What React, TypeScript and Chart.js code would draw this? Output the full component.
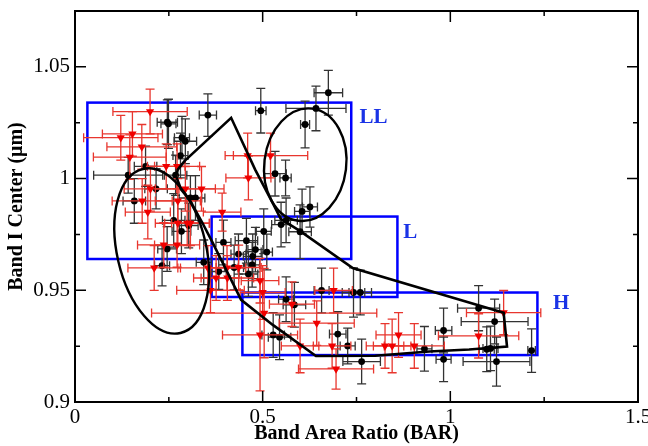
import React, { useEffect, useRef } from 'react';
import { Chart, registerables } from 'chart.js';

Chart.register(...registerables);

// ---- data: black circles ----
const blackX = [0.675, 0.642, 0.613, 0.495, 0.354, 0.246, 0.249, 0.285, 0.294, 0.281, 0.1417, 0.188, 0.268, 0.216, 0.158, 0.3075, 0.321, 0.263, 0.2836, 0.303, 0.2455, 0.232, 0.343, 0.383, 0.533, 0.561, 0.626, 0.605, 0.5624, 0.549, 0.5997, 0.5029, 0.3955, 0.4567, 0.4355, 0.4807, 0.4735, 0.511, 0.424, 0.472, 0.462, 0.657, 0.742, 0.760, 0.5624, 0.5846, 0.528, 0.545, 0.700, 0.7637, 0.931, 0.982, 0.982, 1.0753, 1.118, 1.097, 1.107, 1.2165, 1.123, 0.7265];
const blackY = [1.0384, 1.0314, 1.0242, 1.0304, 1.0284, 1.0252, 1.0245, 1.0183, 1.0167, 1.0103, 1.0015, 1.0055, 1.0015, 0.9954, 0.990, 0.9913, 0.9913, 0.9813, 0.9764, 0.979, 0.9685, 0.961, 0.9625, 0.9584, 1.0022, 1.0003, 0.9873, 0.9853, 0.9813, 0.9794, 0.9762, 0.9764, 0.9714, 0.9722, 0.9662, 0.9682, 0.9652, 0.9671, 0.9602, 0.9614, 0.9573, 0.9499, 0.949, 0.949, 0.946, 0.9435, 0.930, 0.929, 0.9304, 0.9181, 0.9238, 0.932, 0.9191, 0.942, 0.936, 0.9236, 0.924, 0.923, 0.9181, 0.9251];
const blackXErr = [0.038, 0.08, 0.012, 0.014, 0.023, 0.027, 0.02, 0.02, 0.03, 0.02, 0.092, 0.03, 0.03, 0.03, 0.03, 0.03, 0.025, 0.03, 0.025, 0.025, 0.025, 0.02, 0.02, 0.02, 0.03, 0.015, 0.02, 0.02, 0.03, 0.025, 0.03, 0.02, 0.02, 0.03, 0.02, 0.02, 0.025, 0.015, 0.025, 0.02, 0.025, 0.02, 0.03, 0.03, 0.02, 0.03, 0.03, 0.03, 0.022, 0.05, 0.02, 0.022, 0.02, 0.056, 0.089, 0.02, 0.02, 0.01, 0.089, 0.02];
const blackYErr = [0.010, 0.010, 0.0105, 0.010, 0.0095, 0.010, 0.011, 0.0095, 0.010, 0.010, 0.008, 0.009, 0.009, 0.009, 0.010, 0.010, 0.010, 0.012, 0.010, 0.010, 0.010, 0.009, 0.010, 0.008, 0.010, 0.008, 0.009, 0.010, 0.010, 0.010, 0.012, 0.010, 0.010, 0.010, 0.009, 0.010, 0.010, 0.008, 0.010, 0.010, 0.010, 0.010, 0.011, 0.010, 0.010, 0.010, 0.010, 0.010, 0.010, 0.010, 0.010, 0.010, 0.010, 0.0101, 0.010, 0.010, 0.010, 0.0097, 0.011, 0.008];

// ---- data: red triangles ----
const redX = [0.200, 0.122, 0.153, 0.178, 0.146, 0.243, 0.272, 0.460, 0.521, 0.462, 0.201, 0.294, 0.337, 0.179, 0.274, 0.194, 0.392, 0.274, 0.299, 0.3075, 0.2366, 0.272, 0.211, 0.354, 0.376, 0.406, 0.436, 0.405, 0.493, 0.361, 0.500, 0.689, 0.578, 0.504, 0.644, 0.493, 0.5997, 0.685, 0.826, 0.845, 0.862, 0.904, 0.6955, 1.142, 1.0753];
const redY = [1.030, 1.0183, 1.020, 1.0142, 1.0096, 1.0055, 1.0055, 1.0103, 1.0103, 1.0003, 0.9954, 0.9954, 0.9954, 0.990, 0.990, 0.985, 0.985, 0.980, 0.980, 0.980, 0.9703, 0.9703, 0.960, 0.960, 0.9555, 0.9555, 0.9602, 0.960, 0.9543, 0.950, 0.949, 0.9499, 0.9438, 0.9398, 0.9353, 0.930, 0.9251, 0.9251, 0.9251, 0.9251, 0.930, 0.9251, 0.9148, 0.940, 0.9296];
const redXErr = [0.099, 0.099, 0.08, 0.093, 0.097, 0.05, 0.06, 0.06, 0.099, 0.06, 0.07, 0.08, 0.06, 0.08, 0.06, 0.06, 0.05, 0.06, 0.06, 0.05, 0.07, 0.06, 0.07, 0.08, 0.06, 0.07, 0.06, 0.05, 0.05, 0.09, 0.06, 0.05, 0.06, 0.3, 0.1, 0.1, 0.05, 0.05, 0.05, 0.05, 0.06, 0.08, 0.1, 0.099, 0.107];
const redYErr = [0.010, 0.010, 0.010, 0.010, 0.010, 0.010, 0.010, 0.010, 0.010, 0.0098, 0.010, 0.010, 0.010, 0.010, 0.010, 0.012, 0.0085, 0.010, 0.010, 0.010, 0.010, 0.010, 0.010, 0.010, 0.010, 0.010, 0.010, 0.010, 0.010, 0.010, 0.012, 0.010, 0.010, 0.020, 0.010, 0.025, 0.012, 0.010, 0.010, 0.012, 0.010, 0.010, 0.009, 0.0099, 0.0099];

// ---- polygon outline ----
const polyX = [0.2695, 0.2738, 0.2916, 0.416, 0.48, 0.53, 0.548, 0.60, 0.74, 1.142, 1.151, 1.05, 0.944, 0.80, 0.642, 0.527, 0.4426, 0.4115, 0.3936, 0.367, 0.340, 0.305, 0.2828, 0.2695];
const polyY = [1.001, 1.004, 1.0078, 1.0272, 1.004, 0.988, 0.982, 0.9765, 0.960, 0.940, 0.9248, 0.9235, 0.9226, 0.9207, 0.9206, 0.9345, 0.9457, 0.9562, 0.9622, 0.9712, 0.980, 0.9906, 0.9951, 1.001];

// ---- boxes ----
const boxNames = ['LL', 'L', 'H'];
const boxXMin = [0.033, 0.364, 0.446];
const boxXMax = [0.736, 0.859, 1.232];
const boxYMin = [0.964, 0.947, 0.921];
const boxYMax = [1.034, 0.983, 0.949];
const boxLabelX = [0.795, 0.893, 1.295];
const boxLabelY = [1.0272, 0.976, 0.944];

// ---- ellipses: major-axis endpoints + minor/major ratio ----
const ellX1 = [0.181, 0.5952];
const ellY1 = [1.0043, 0.9811];
const ellX2 = [0.281, 0.6318];
const ellY2 = [0.9309, 1.0313];
const ellRatio = [0.53, 0.725];

// ---- ticks ----
const xMajor = [0, 0.5, 1, 1.5];
const xMinor = [0.25, 0.75, 1.25];
const yMajor = [0.9, 0.95, 1, 1.05];
const yMinor = [0.925, 0.975, 1.025];

const SERIF = "'Liberation Serif', 'Times New Roman', serif";

const errorBarPlugin = {
  id: 'errbars',
  beforeDatasetDraw(chart: any, args: any) {
    const ds = chart.data.datasets[args.index];
    if (!ds.errX) return;
    const { ctx } = chart;
    const x = chart.scales.x, y = chart.scales.y;
    const cap = ds.capHalf;
    ctx.save();
    ctx.strokeStyle = ds.errColor;
    ctx.lineWidth = 1.3;
    ds.data.forEach((p: any, i: number) => {
      const px = x.getPixelForValue(p.x), py = y.getPixelForValue(p.y);
      const x0 = x.getPixelForValue(p.x - ds.errX[i]);
      const x1 = x.getPixelForValue(p.x + ds.errX[i]);
      const y0 = y.getPixelForValue(p.y - ds.errY[i]);
      const y1 = y.getPixelForValue(p.y + ds.errY[i]);
      ctx.beginPath();
      ctx.moveTo(x0, py); ctx.lineTo(x1, py);
      ctx.moveTo(px, y0); ctx.lineTo(px, y1);
      ctx.moveTo(x0, py - cap); ctx.lineTo(x0, py + cap);
      ctx.moveTo(x1, py - cap); ctx.lineTo(x1, py + cap);
      ctx.moveTo(px - cap, y0); ctx.lineTo(px + cap, y0);
      ctx.moveTo(px - cap, y1); ctx.lineTo(px + cap, y1);
      ctx.stroke();
    });
    ctx.restore();
  },
};

const boxesPlugin = {
  id: 'boxes',
  beforeDatasetsDraw(chart: any) {
    const { ctx } = chart;
    const x = chart.scales.x, y = chart.scales.y;
    ctx.save();
    ctx.strokeStyle = '#0000ff';
    ctx.lineWidth = 2.5;
    boxNames.forEach((_, i) => {
      const l = x.getPixelForValue(boxXMin[i]);
      const r = x.getPixelForValue(boxXMax[i]);
      const t = y.getPixelForValue(boxYMax[i]);
      const b = y.getPixelForValue(boxYMin[i]);
      ctx.strokeRect(l, t, r - l, b - t);
    });
    ctx.restore();
  },
  afterDatasetsDraw(chart: any) {
    const { ctx } = chart;
    const x = chart.scales.x, y = chart.scales.y;
    ctx.save();
    ctx.strokeStyle = '#000';
    ctx.lineWidth = 2.4;
    ellX1.forEach((_, i) => {
      const ax = x.getPixelForValue(ellX1[i]), ay = y.getPixelForValue(ellY1[i]);
      const bx = x.getPixelForValue(ellX2[i]), by = y.getPixelForValue(ellY2[i]);
      const cx = (ax + bx) / 2, cy = (ay + by) / 2;
      const a = Math.hypot(bx - ax, by - ay) / 2;
      const rot = Math.atan2(by - ay, bx - ax);
      ctx.beginPath();
      ctx.ellipse(cx, cy, a, a * ellRatio[i], rot, 0, Math.PI * 2);
      ctx.stroke();
    });
    ctx.fillStyle = '#1a33e6';
    ctx.font = `bold 21px ${SERIF}`;
    ctx.textAlign = 'center';
    ctx.textBaseline = 'middle';
    boxNames.forEach((n, i) => {
      ctx.fillText(n, x.getPixelForValue(boxLabelX[i]), y.getPixelForValue(boxLabelY[i]));
    });
    ctx.restore();
  },
  afterDraw(chart: any) {
    const { ctx, chartArea: ca } = chart;
    const x = chart.scales.x, y = chart.scales.y;
    ctx.save();
    ctx.strokeStyle = '#000';
    ctx.lineWidth = 2;
    ctx.strokeRect(ca.left, ca.top, ca.right - ca.left, ca.bottom - ca.top);
    ctx.lineWidth = 1.5;
    ctx.beginPath();
    const xt = (v: number, len: number) => {
      const p = x.getPixelForValue(v);
      ctx.moveTo(p, ca.bottom); ctx.lineTo(p, ca.bottom - len);
      ctx.moveTo(p, ca.top); ctx.lineTo(p, ca.top + len);
    };
    const yt = (v: number, len: number) => {
      const p = y.getPixelForValue(v);
      ctx.moveTo(ca.left, p); ctx.lineTo(ca.left + len, p);
      ctx.moveTo(ca.right, p); ctx.lineTo(ca.right - len, p);
    };
    xMajor.forEach(v => xt(v, 11));
    xMinor.forEach(v => xt(v, 5));
    yMajor.forEach(v => yt(v, 11));
    yMinor.forEach(v => yt(v, 5));
    ctx.stroke();
    ctx.restore();
  },
};

const fmt = (v: number) => String(Math.round(v * 1000) / 1000);

export default function App() {
  const ref = useRef<HTMLCanvasElement>(null);
  useEffect(() => {
    if (!ref.current) return;
    const chart = new Chart(ref.current, {
      type: 'scatter',
      data: {
        datasets: [
          {
            label: 'outline',
            type: 'line',
            data: polyX.map((v, i) => ({ x: v, y: polyY[i] })),
            borderColor: '#000',
            borderWidth: 2.6,
            pointRadius: 0,
            fill: false,
            tension: 0,
            order: 0,
          } as any,
          {
            label: 'red',
            data: redX.map((v, i) => ({ x: v, y: redY[i] })),
            errX: redXErr,
            errY: redYErr,
            errColor: '#e8362e',
            capHalf: 4.5,
            pointStyle: 'triangle',
            rotation: 180,
            pointRadius: 4.8,
            backgroundColor: '#f00000',
            borderColor: '#f00000',
            borderWidth: 0,
            order: 1,
          } as any,
          {
            label: 'black',
            data: blackX.map((v, i) => ({ x: v, y: blackY[i] })),
            errX: blackXErr,
            errY: blackYErr,
            errColor: '#333333',
            capHalf: 4.5,
            pointStyle: 'circle',
            pointRadius: 3.4,
            backgroundColor: '#000',
            borderColor: '#000',
            borderWidth: 0,
            order: 2,
          } as any,
        ],
      },
      options: {
        animation: false,
        responsive: false,
        events: [],
        layout: { padding: { top: 11, right: 10, left: 0, bottom: 0 } },
        plugins: { legend: { display: false }, tooltip: { enabled: false } },
        scales: {
          x: {
            type: 'linear',
            min: 0,
            max: 1.5,
            grid: { display: false, drawTicks: false },
            border: { display: false },
            ticks: {
              stepSize: 0.5,
              includeBounds: false,
              color: '#000',
              padding: 3,
              maxRotation: 0,
              font: { family: SERIF, size: 21 },
              callback: (v: any) => fmt(Number(v)),
            },
            title: {
              display: true,
              text: 'Band Area Ratio (BAR)',
              color: '#000',
              font: { family: SERIF, size: 20, weight: 'bold' },
              padding: { top: 0, bottom: 0 },
            },
            afterFit: (s: any) => {
              s.height = 44;
              s.paddingLeft = 0;
              s.paddingRight = 0;
            },
          },
          y: {
            type: 'linear',
            min: 0.9,
            max: 1.075,
            grid: { display: false, drawTicks: false },
            border: { display: false },
            ticks: {
              stepSize: 0.05,
              includeBounds: false,
              color: '#000',
              padding: 5,
              font: { family: SERIF, size: 21 },
              callback: (v: any) => fmt(Number(v)),
            },
            title: {
              display: true,
              text: 'Band I Center (\u03bcm)',
              color: '#000',
              font: { family: SERIF, size: 20, weight: 'bold' },
              padding: { top: 5, bottom: 0 },
            },
            afterFit: (s: any) => {
              s.width = 75;
              s.paddingTop = 0;
              s.paddingBottom = 0;
            },
          },
        },
      } as any,
      plugins: [errorBarPlugin, boxesPlugin],
    });
    return () => chart.destroy();
  }, []);
  return (
    <div style={{ position: 'fixed', left: 0, top: 0, width: 648, height: 446, background: '#fff' }}>
      <canvas ref={ref} width={648} height={446} />
    </div>
  );
}
